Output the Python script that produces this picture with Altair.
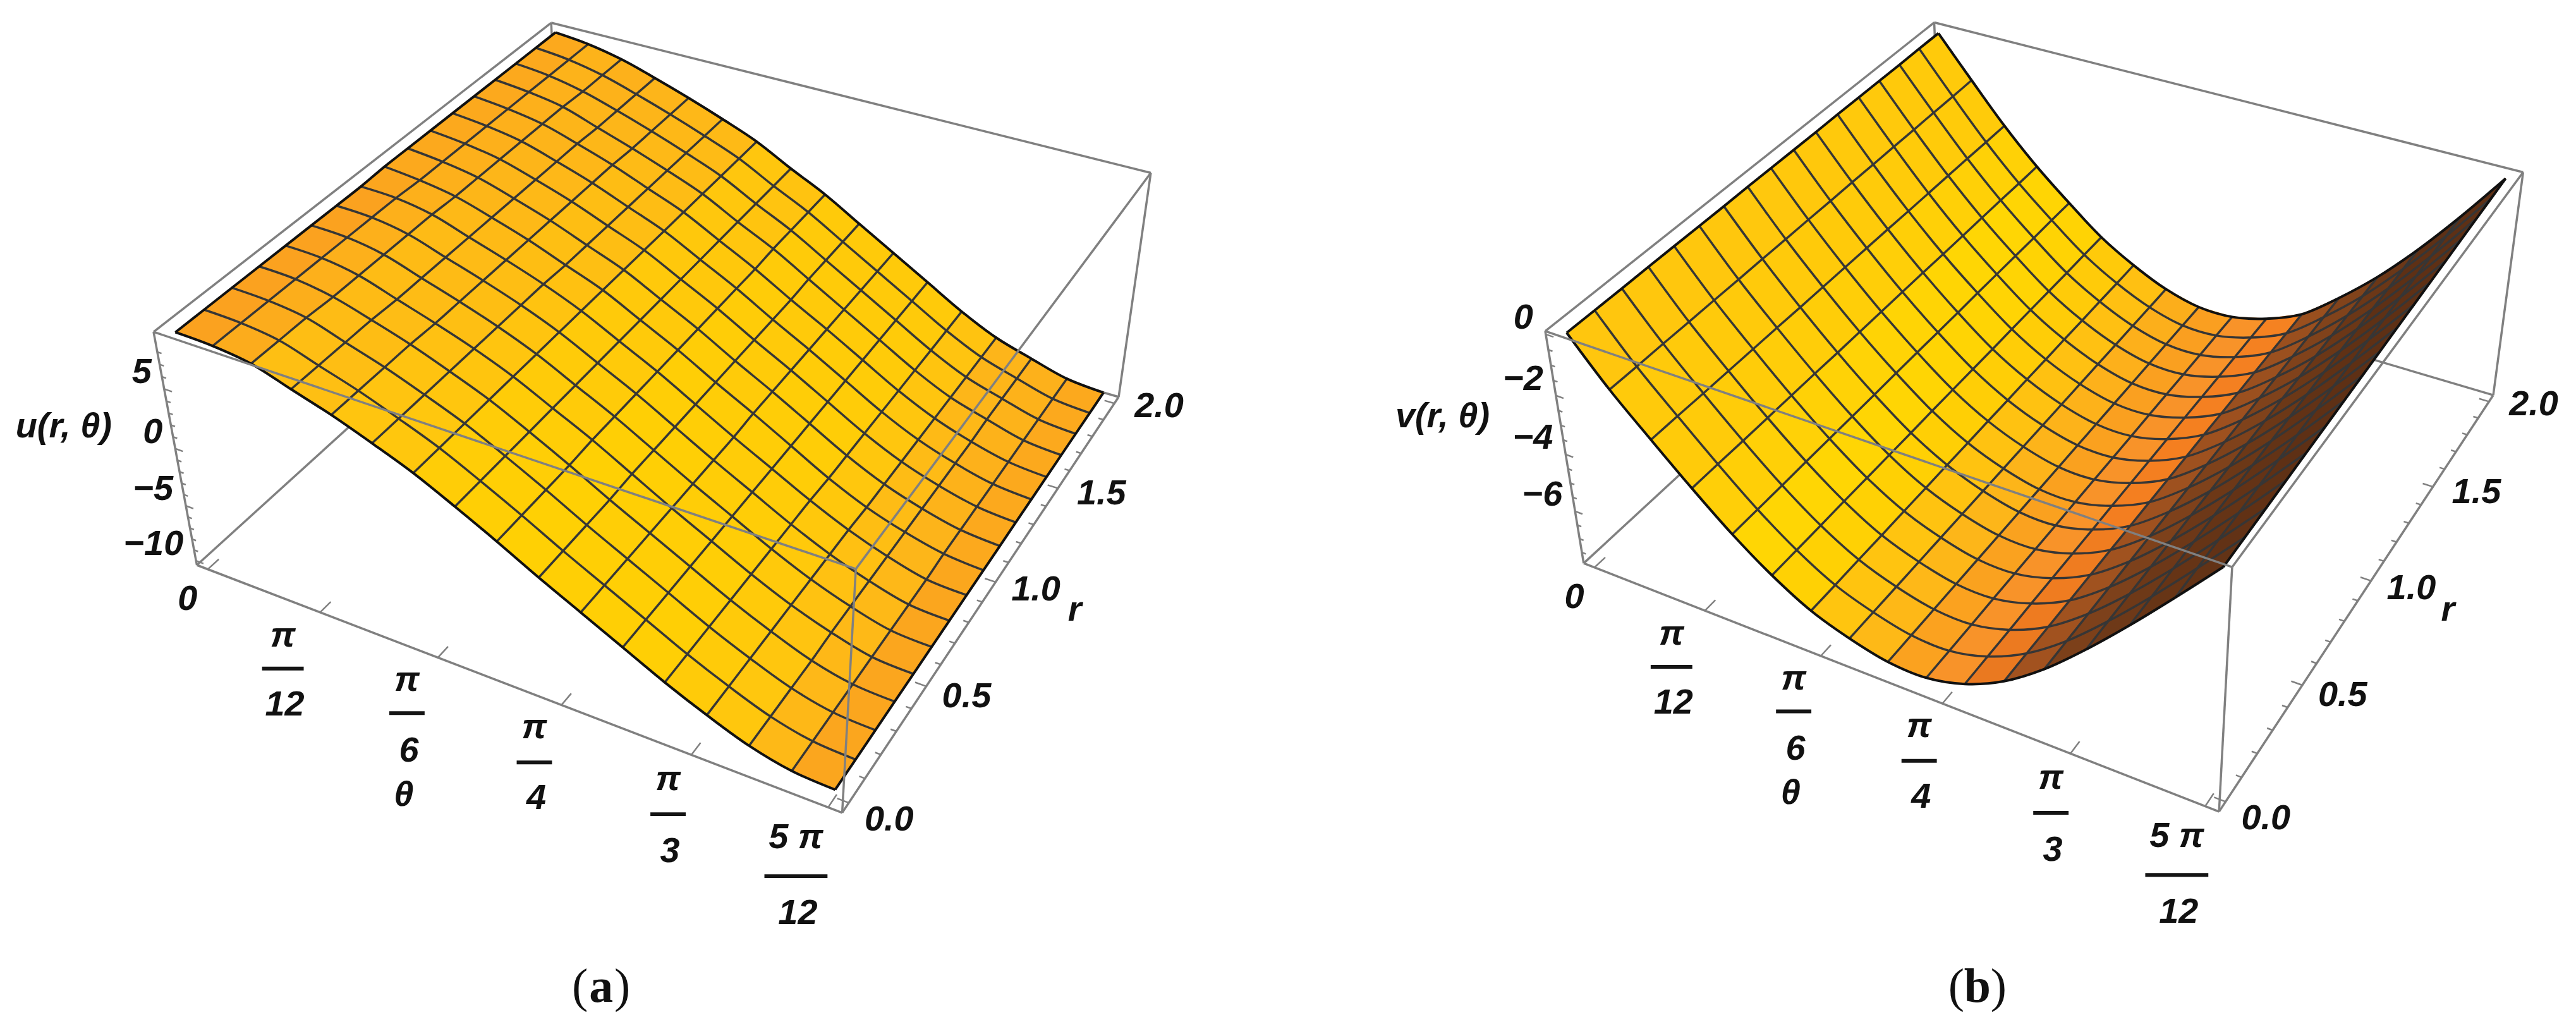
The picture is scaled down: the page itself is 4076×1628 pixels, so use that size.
import altair as alt
import numpy as np
import pandas as pd

# surface heights, one list per theta mesh line (r = 0 ... 2 along each list)
u_table = [
    [9.3, 9.3, 9.3, 9.3, 9.3, 9.3, 9.3, 9.3, 9.4, 9.4, 9.4, 9.4, 9.4, 9.4, 9.4, 9.4, 9.4],
    [9.2, 9.2, 9.2, 9.2, 9.2, 9.2, 9.2, 9.2, 9.1, 9.1, 9.1, 9.1, 9.1, 9.1, 9.1, 9.1, 9.1],
    [8.8, 8.8, 8.8, 8.7, 8.7, 8.7, 8.7, 8.7, 8.6, 8.6, 8.6, 8.6, 8.6, 8.6, 8.5, 8.5, 8.5],
    [7.8, 7.8, 7.8, 7.8, 7.7, 7.7, 7.7, 7.7, 7.7, 7.7, 7.7, 7.7, 7.7, 7.6, 7.6, 7.6, 7.6],
    [6.8, 6.8, 6.8, 6.8, 6.7, 6.7, 6.7, 6.7, 6.7, 6.7, 6.7, 6.7, 6.7, 6.6, 6.6, 6.6, 6.6],
    [5.6, 5.6, 5.6, 5.6, 5.6, 5.6, 5.6, 5.6, 5.5, 5.5, 5.5, 5.5, 5.5, 5.5, 5.5, 5.5, 5.5],
    [4.3, 4.3, 4.3, 4.3, 4.3, 4.3, 4.3, 4.3, 4.3, 4.3, 4.3, 4.3, 4.3, 4.3, 4.3, 4.3, 4.3],
    [2.7, 2.7, 2.7, 2.7, 2.7, 2.7, 2.7, 2.7, 2.7, 2.7, 2.7, 2.7, 2.7, 2.7, 2.7, 2.7, 2.7],
    [1.0, 1.0, 1.0, 1.0, 1.1, 1.1, 1.1, 1.1, 1.1, 1.1, 1.1, 1.1, 1.1, 1.2, 1.2, 1.2, 1.2],
    [-0.8, -0.8, -0.8, -0.8, -0.7, -0.7, -0.7, -0.7, -0.7, -0.7, -0.7, -0.7, -0.7, -0.6, -0.6, -0.6, -0.6],
    [-2.5, -2.5, -2.5, -2.5, -2.5, -2.5, -2.5, -2.5, -2.4, -2.4, -2.4, -2.4, -2.4, -2.4, -2.4, -2.4, -2.4],
    [-4.2, -4.2, -4.2, -4.2, -4.2, -4.2, -4.2, -4.2, -4.2, -4.2, -4.2, -4.2, -4.2, -4.2, -4.2, -4.2, -4.2],
    [-5.9, -5.9, -5.9, -5.9, -5.9, -5.9, -5.9, -5.9, -6.0, -6.0, -6.0, -6.0, -6.0, -6.0, -6.0, -6.0, -6.0],
    [-7.4, -7.4, -7.4, -7.4, -7.4, -7.4, -7.4, -7.4, -7.5, -7.5, -7.5, -7.5, -7.5, -7.5, -7.5, -7.5, -7.5],
    [-8.7, -8.7, -8.7, -8.7, -8.6, -8.6, -8.6, -8.6, -8.6, -8.6, -8.6, -8.6, -8.6, -8.5, -8.5, -8.5, -8.5],
    [-9.5, -9.5, -9.5, -9.5, -9.5, -9.5, -9.5, -9.5, -9.4, -9.4, -9.4, -9.4, -9.4, -9.4, -9.4, -9.4, -9.4],
    [-9.7, -9.7, -9.7, -9.7, -9.7, -9.7, -9.7, -9.7, -9.7, -9.7, -9.7, -9.7, -9.7, -9.7, -9.7, -9.7, -9.7],
]
v_table = [
    [-0.06, -0.06, -0.06, -0.05, -0.05, -0.05, -0.05, -0.04, -0.04, -0.04, -0.04, -0.03, -0.03, -0.03, -0.03, -0.02, -0.02],
    [-1.50, -1.50, -1.49, -1.49, -1.48, -1.48, -1.47, -1.47, -1.46, -1.46, -1.45, -1.45, -1.44, -1.44, -1.43, -1.43, -1.42],
    [-2.74, -2.74, -2.75, -2.75, -2.75, -2.75, -2.76, -2.76, -2.76, -2.76, -2.76, -2.77, -2.77, -2.77, -2.77, -2.78, -2.78],
    [-3.94, -3.94, -3.95, -3.95, -3.95, -3.95, -3.96, -3.96, -3.96, -3.96, -3.96, -3.97, -3.97, -3.97, -3.97, -3.98, -3.98],
    [-5.06, -5.06, -5.06, -5.05, -5.05, -5.05, -5.05, -5.04, -5.04, -5.04, -5.04, -5.03, -5.03, -5.03, -5.03, -5.02, -5.02],
    [-6.02, -6.02, -6.02, -6.01, -6.01, -6.01, -6.01, -6.00, -6.00, -6.00, -6.00, -5.99, -5.99, -5.99, -5.99, -5.98, -5.98],
    [-6.78, -6.78, -6.77, -6.77, -6.76, -6.76, -6.75, -6.75, -6.74, -6.74, -6.73, -6.73, -6.72, -6.72, -6.71, -6.71, -6.70],
    [-7.26, -7.26, -7.26, -7.26, -7.26, -7.26, -7.26, -7.26, -7.26, -7.26, -7.26, -7.26, -7.26, -7.26, -7.26, -7.26, -7.26],
    [-7.58, -7.58, -7.58, -7.58, -7.58, -7.58, -7.58, -7.58, -7.58, -7.58, -7.58, -7.58, -7.58, -7.58, -7.58, -7.58, -7.58],
    [-7.62, -7.62, -7.62, -7.61, -7.61, -7.61, -7.61, -7.60, -7.60, -7.60, -7.60, -7.59, -7.59, -7.59, -7.59, -7.58, -7.58],
    [-7.30, -7.30, -7.30, -7.29, -7.29, -7.29, -7.29, -7.28, -7.28, -7.28, -7.28, -7.27, -7.27, -7.27, -7.27, -7.26, -7.26],
    [-6.66, -6.66, -6.67, -6.67, -6.67, -6.67, -6.68, -6.68, -6.68, -6.68, -6.68, -6.69, -6.69, -6.69, -6.69, -6.70, -6.70],
    [-5.70, -5.70, -5.70, -5.70, -5.70, -5.70, -5.70, -5.70, -5.70, -5.70, -5.70, -5.70, -5.70, -5.70, -5.70, -5.70, -5.70],
    [-4.50, -4.50, -4.51, -4.51, -4.51, -4.51, -4.52, -4.52, -4.52, -4.52, -4.52, -4.53, -4.53, -4.53, -4.53, -4.54, -4.54],
    [-3.18, -3.18, -3.18, -3.18, -3.18, -3.18, -3.18, -3.18, -3.18, -3.18, -3.18, -3.18, -3.18, -3.18, -3.18, -3.18, -3.18],
    [-1.78, -1.77, -1.76, -1.76, -1.75, -1.74, -1.74, -1.73, -1.72, -1.71, -1.70, -1.70, -1.69, -1.68, -1.68, -1.67, -1.66],
    [-0.34, -0.32, -0.30, -0.28, -0.26, -0.24, -0.22, -0.20, -0.18, -0.16, -0.14, -0.12, -0.10, -0.08, -0.06, -0.04, -0.02],
]

# where the eight corners of each plot box sit on the page, used to solve the camera
cube = [(0, 0, 1), (0, 0, 0), (1, 0, 1), (1, 0, 0), (1, 1, 1), (1, 1, 0), (0, 1, 1), (0, 1, 0)]
corners_a = [(239, 516), (300, 882), (1349, 900), (1328, 1277), (1813, 265), (1768, 615), (866, 21), (882, 371)]
corners_b = [(2445, 516), (2499, 879), (3532, 895), (3510, 1276), (3989, 264), (3947, 613), (3058, 21), (3073, 366)]

x_scale_a = alt.Scale(domain=[0, 2034], nice=False, zero=False)
x_scale_b = alt.Scale(domain=[2034, 4068], nice=False, zero=False)
y_scale = alt.Scale(domain=[1612, 0], nice=False, zero=False)

slope_stops = [-3, -2.6, -2.1, -1.6, -1.2, -0.6, 0, 0.5, 1.0, 1.4, 1.9, 2.4, 2.9]
slope_colors = ['#5e3015', '#703a18', '#8f4a1e', '#c4621f', '#f47f20', '#f8942a', '#fa9f20',
                '#fdb41a', '#ffc60e', '#ffd004', '#ffd604', '#ffcb0a', '#ffc60e']

frac_dx = [-56, -46, -40, -34, -48]
frac_num = [37, 36, 36, 39, 48]
frac_bar = [89, 88, 91, 94, 109]
frac_den = [146, 148, 148, 153, 168]
frac_half = [33, 28, 28, 28, 50]
frac_tops = ['π', 'π', 'π', 'π', '5 π']
frac_bottoms = ['12', '6', '4', '3', '12']
r_ticks = [0.0, 0.5, 1.0, 1.5, 2.0]
r_minor = [x / 10 for x in range(21) if x % 5]
r_label_dx = [25, 25, 25, 30, 32]
r_label_dy = [27, 16, 12, 9, 5]


def solve_camera(corners):
    rows, rhs = [], []
    for (a, b, c), (px, py) in zip(cube, corners):
        rows.append([a, b, c, 1, 0, 0, 0, 0, -px * a, -px * b, -px * c])
        rhs.append(px)
        rows.append([0, 0, 0, 0, a, b, c, 1, -py * a, -py * b, -py * c])
        rhs.append(py)
    sol = np.linalg.lstsq(np.array(rows, float), np.array(rhs, float), rcond=None)[0]
    return np.append(sol, 1).reshape(3, 4)


def panel(table, z_bottom, z_top, corners, x_scale, z_major, z_minor, name, letter, name_pos, theta_pos, r_pos, cap_x, shift):
    cam = solve_camera(corners)

    def to_box(th, r, z):
        return ((th / 5 + 0.02) / 1.04, (r / 2 + 0.02) / 1.04, (z - z_bottom) / (z_top - z_bottom))

    def proj(a, b, c):
        p = cam @ np.array([a, b, c, 1.0])
        return p[0] / p[2], p[1] / p[2], p[2]

    def surf(i, j):
        return proj(*to_box(i * 5 / 16, j * 2 / 16, table[i][j]))

    quads = []
    for i in range(16):
        for j in range(16):
            cell = [(i, j), (i + 1, j), (i + 1, j + 1), (i, j + 1), (i, j)]
            pts = [surf(a, b) for a, b in cell]
            slope = ((table[i][j] - table[i + 1][j]) + (table[i][j + 1] - table[i + 1][j + 1])) / 2 * 16 / (z_top - z_bottom)
            # the light falls off a little towards the back of the box on the lit side
            if slope > 0.5:
                slope -= 0.3 * j / 16
            quads.append((np.mean([p[2] for p in pts[:4]]), f'q{i}_{j}', pts, slope))
    quads.sort(key=lambda q: -q[0])
    quad_rows = []
    for _, qid, pts, slope in quads:
        for k, p in enumerate(pts):
            quad_rows.append({'x': p[0], 'y': p[1], 'quad': qid, 'idx': k, 'slope': slope})

    mesh_rows, edge_rows = [], []
    for m in range(17):
        for k in range(17):
            for line, (i, j) in [(f't{m}', (m, k)), (f'r{m}', (k, m))]:
                p = surf(i, j)
                row = {'x': p[0], 'y': p[1], 'line': line, 'idx': k}
                if m in (0, 16):
                    edge_rows.append(row)
                else:
                    mesh_rows.append(row)

    def seg(p, q):
        a, b = proj(*p), proj(*q)
        return {'x': a[0], 'y': a[1], 'x2': b[0], 'y2': b[1]}

    back_edges = [seg(*s) for s in [
        ((0, 0, 0), (1, 0, 0)), ((0, 0, 0), (0, 1, 0)), ((1, 0, 0), (1, 1, 0)), ((0, 1, 0), (1, 1, 0)),
        ((0, 0, 0), (0, 0, 1)), ((0, 0, 1), (0, 1, 1)), ((0, 1, 1), (1, 1, 1)), ((1, 1, 0), (1, 1, 1)), ((0, 1, 0), (0, 1, 1))]]
    front_edges = [seg(*s) for s in [((0, 0, 1), (1, 0, 1)), ((1, 0, 1), (1, 1, 1)), ((1, 0, 0), (1, 0, 1))]]

    ticks, labels, bars = [], [], []
    for z in z_major + z_minor:
        w = (z - z_bottom) / (z_top - z_bottom)
        ticks.append(seg((0, 0, w), (0.013 if z in z_major else 0.007, 0, w)))
    for z in z_major:
        w = (z - z_bottom) / (z_top - z_bottom)
        p = proj(0, 0, w)
        labels.append({'x': p[0] - 20, 'y': p[1] - 26, 'label': str(z).replace('-', '−'), 'align': 'right'})
    for r in r_ticks + r_minor:
        _, b, _ = to_box(0, r, 0)
        ticks.append(seg((1, b, 0), (1 - (0.016 if r in r_ticks else 0.008), b, 0)))
    for k, r in enumerate(r_ticks):
        _, b, _ = to_box(0, r, 0)
        p = proj(1, b, 0)
        labels.append({'x': p[0] + r_label_dx[k], 'y': p[1] + r_label_dy[k], 'label': f'{r:.1f}', 'align': 'left'})
    for t in range(6):
        a, _, _ = to_box(t, 0, 0)
        ticks.append(seg((a, 0, 0), (a, 0.025, 0)))
        p = proj(a, 0, 0)
        if t == 0:
            labels.append({'x': p[0] - 32, 'y': p[1] + 47, 'label': '0', 'align': 'center'})
            continue
        k = t - 1
        cx = p[0] + frac_dx[k] + shift
        labels.append({'x': cx, 'y': p[1] + frac_num[k], 'label': frac_tops[k], 'align': 'center'})
        labels.append({'x': cx + 3, 'y': p[1] + frac_den[k], 'label': frac_bottoms[k], 'align': 'center'})
        bars.append({'x': cx - frac_half[k], 'x2': cx + frac_half[k], 'y': p[1] + frac_bar[k], 'y2': p[1] + frac_bar[k]})
    labels.append({'x': name_pos[0], 'y': name_pos[1], 'label': name, 'align': 'center'})
    labels.append({'x': theta_pos[0], 'y': theta_pos[1], 'label': 'θ', 'align': 'center'})
    labels.append({'x': r_pos[0], 'y': r_pos[1], 'label': 'r', 'align': 'center'})

    X = alt.X('x:Q', scale=x_scale, axis=None)
    Y = alt.Y('y:Q', scale=y_scale, axis=None)

    def rules(rows, color, width):
        return alt.Chart(pd.DataFrame(rows)).mark_rule(color=color, strokeWidth=width).encode(
            x=X, y=Y, x2='x2:Q', y2='y2:Q')

    shade = alt.Scale(domain=slope_stops, range=slope_colors, clamp=True)
    surface = alt.Chart(pd.DataFrame(quad_rows)).mark_line(strokeWidth=1.5, strokeJoin='round').encode(
        x=X, y=Y, detail='quad:N', order='idx:Q',
        fill=alt.Fill('slope:Q', scale=shade, legend=None),
        stroke=alt.Stroke('slope:Q', scale=shade, legend=None))
    mesh = alt.Chart(pd.DataFrame(mesh_rows)).mark_line(
        color='#363636', strokeWidth=3.5, interpolate='catmull-rom').encode(
        x=X, y=Y, detail='line:N', order='idx:Q')
    boundary = alt.Chart(pd.DataFrame(edge_rows)).mark_line(
        color='#111111', strokeWidth=4, interpolate='catmull-rom').encode(
        x=X, y=Y, detail='line:N', order='idx:Q')

    layers = [rules(back_edges, '#808080', 3.5), rules(ticks, '#808080', 2.5), surface, mesh, boundary,
              rules(front_edges, '#808080', 3.5), rules(bars, '#151515', 6)]
    for align in ['left', 'center', 'right']:
        rows = [l for l in labels if l['align'] == align]
        layers.append(alt.Chart(pd.DataFrame(rows)).mark_text(
            font='Liberation Sans', fontStyle='italic', fontWeight='bold', fontSize=56,
            align=align, baseline='middle', color='#111111').encode(x=X, y=Y, text='label:N'))
    cap_font = dict(font='Liberation Serif', fontSize=76, baseline='middle', color='#111111')
    for piece, off, align, weight in [('(', -21, 'right', 'normal'), (letter, 0, 'center', 'bold'), (')', 21, 'left', 'normal')]:
        cap = pd.DataFrame({'x': [cap_x + off], 'y': [1556], 'label': [piece]})
        layers.append(alt.Chart(cap).mark_text(align=align, fontWeight=weight, **cap_font).encode(x=X, y=Y, text='label:N'))
    return alt.layer(*layers).properties(width=2034, height=1612)


left = panel(u_table, -10.4, 9.6, corners_a, x_scale_a, [5, 0, -5, -10],
             [8, 7, 6, 4, 3, 2, 1, -1, -2, -3, -4, -6, -7, -8, -9], 'u(r, θ)', 'a',
             (93, 667), (632, 1251), (1696, 957), 945, -3)
right = panel(v_table, -7.9, 0.1, corners_b, x_scale_b, [0, -2, -4, -6],
              [-0.5, -1, -1.5, -2.5, -3, -3.5, -4.5, -5, -5.5, -6.5, -7, -7.5], 'v(r, θ)', 'b',
              (2279, 651), (2831, 1248), (3873, 957), 3127, 3)

chart = alt.hconcat(left, right, spacing=0).properties(padding=0).configure_view(stroke=None)
chart.save("out.html", embed_options={"renderer": "svg", "actions": False})
